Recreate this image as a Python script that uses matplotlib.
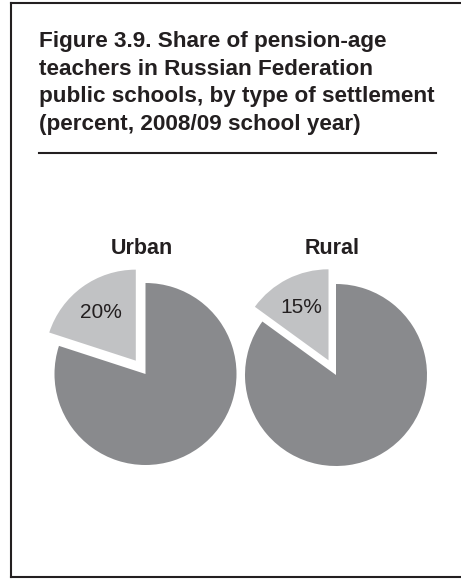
import matplotlib.pyplot as plt
from matplotlib.lines import Line2D

# data
settlements = ['Urban', 'Rural']
pension_age_share = [20, 15]   # percent of teachers of pension age
other_share = [80, 85]

title = ('Figure 3.9. Share of pension-age\n'
         'teachers in Russian Federation\n'
         'public schools, by type of settlement\n'
         '(percent, 2008/09 school year)')

W, H = 461, 579
plt.rcParams['font.family'] = ['Liberation Sans', 'DejaVu Sans']

fig = plt.figure(figsize=(W / 100, H / 100), dpi=100)
ax = fig.add_axes([0, 0, 1, 1])
ax.set_xlim(0, W)
ax.set_ylim(0, H)
ax.set_aspect('equal')
ax.axis('off')

# box (open on the right)
box = '#231f20'
fig.add_artist(Line2D([10.5 / W, 10.5 / W], [1 - 3 / H, 1 - 577 / H], color=box, lw=1.5))
fig.add_artist(Line2D([10.5 / W, 1], [1 - 3 / H, 1 - 3 / H], color=box, lw=1.5))
fig.add_artist(Line2D([10.5 / W, 1], [1 - 577 / H, 1 - 577 / H], color=box, lw=1.5))

# title and rule
fig.text(39 / W, 1 - 31 / H, title, ha='left', va='top', fontsize=16.2,
         fontweight='bold', color=box, linespacing=1.41)
fig.add_artist(Line2D([39 / W, 436 / W], [1 - 152.5 / H, 1 - 152.5 / H], color=box, lw=1.5))

dark = '#898a8d'
light = '#c1c2c4'
centers = [(145.5, H - 374), (336, H - 375)]
radius = 91

for name, small, big, c in zip(settlements, pension_age_share, other_share, centers):
    wedges, texts, autotexts = ax.pie(
        [small, big], colors=[light, dark], startangle=90, counterclock=True,
        explode=[16.5, 0], center=c, radius=radius,
        autopct=lambda p: f'{p:.0f}%' if p < 50 else '',
        pctdistance=0.65, wedgeprops=dict(linewidth=0),
        textprops=dict(fontsize=15, color=box))
    ax.text(c[0] - 4, H - 249, name, ha='center', va='center', fontsize=15.5,
            fontweight='bold', color=box)

ax.set_xlim(0, W)
ax.set_ylim(0, H)

fig.savefig('out.png', dpi=100)
